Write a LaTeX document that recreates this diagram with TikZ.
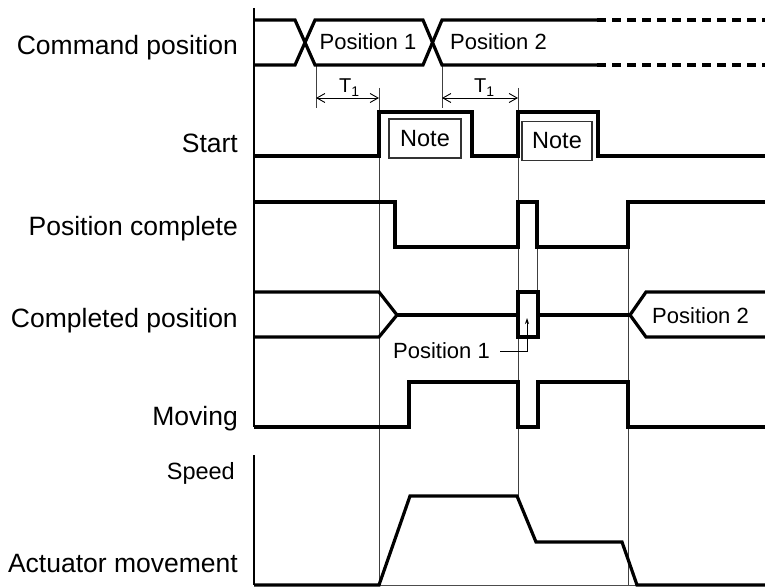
\documentclass[tikz,border=0pt]{standalone}
\usepackage{fontspec}
\setmainfont{Liberation Sans}
\usetikzlibrary{arrows.meta}
\begin{document}
\begin{tikzpicture}[x=1pt,y=-1pt,
  sig/.style={line width=3.2pt, line join=miter, line cap=butt},
  refline/.style={line width=0.9pt, black!75},
  axisline/.style={line width=1.5pt},
  lbl/.style={anchor=base east, inner sep=0pt, font=\fontsize{26.5}{30}\selectfont},
  inlbl/.style={anchor=base west, inner sep=0pt, font=\fontsize{22}{26}\selectfont},
  notebox/.style={draw=black!80, line width=1.4pt, fill=white, inner sep=0pt, minimum width=72pt, minimum height=39pt, font=\fontsize{23.5}{27}\selectfont},
  dimline/.style={line width=0.9pt, {Straight Barb[length=8pt,width=9pt]}-{Straight Barb[length=8pt,width=9pt]}},
  tlbl/.style={anchor=base west, inner sep=0pt, font=\fontsize{20}{22}\selectfont}
]
\useasboundingbox (0,0) rectangle (765,588);

% ---- left labels ----
\node[lbl] (lcmd) at (238,55) {Command position};
\node[lbl] (lstart) at (238,153) {Start};
\node[lbl] (lpc) at (238,235) {Position complete};
\node[lbl] (lcp) at (238,327) {Completed position};
\node[lbl] (lmov) at (238,425) {Moving};
\node[lbl, font=\fontsize{23.5}{27}\selectfont] (lspd) at (235,479) {Speed};
\node[lbl] (lact) at (238,572) {Actuator movement};

% ---- axes ----
\draw[axisline] (254,8) -- (254,427);
\draw[axisline] (254,455) -- (254,585);
\draw[line width=1pt, black!70] (254,585) -- (765,585);

% ---- reference lines ----
\draw[refline] (316,65) -- (316,108);
\draw[refline] (442,65) -- (442,108);
\draw[refline] (379,88) -- (379,585);
\draw[refline] (518,88) -- (518,496);
\draw[refline] (537,247) -- (537,292);
\draw[refline] (628,247) -- (628,585);

% ---- T1 dimensions ----
\coordinate (t1a) at (316,98);
\coordinate (t1b) at (379,98);
\coordinate (t2a) at (442,98);
\coordinate (t2b) at (518,98);
\draw[dimline] (t1a) -- (t1b);
\draw[dimline] (t2a) -- (t2b);
\node[tlbl] (tl1) at (339,93) {T\raisebox{-0.3ex}{\fontsize{14}{14}\selectfont 1}};
\node[tlbl] (tl2) at (474,93) {T\raisebox{-0.3ex}{\fontsize{14}{14}\selectfont 1}};

% ---- Command position ----
\draw[sig] (254,20) -- (295,20) -- (315,65) -- (423,65) -- (442,20) -- (597,20);
\draw[sig] (254,65) -- (295,65) -- (315,20) -- (423,20) -- (442,65) -- (597,65);
\draw[sig, dash pattern=on 9pt off 6pt] (597,20) -- (765,20);
\draw[sig, dash pattern=on 9pt off 6pt] (597,65) -- (765,65);
\node[inlbl, anchor=base] (cp1) at (368,50) {Position 1};
\node[inlbl] (cp2) at (450,50) {Position 2};

% ---- Start ----
\draw[sig] (254,156) -- (379,156) -- (379,112) -- (472,112) -- (472,156) -- (518,156) -- (518,112) -- (598,112) -- (598,156) -- (765,156);
\node[notebox] (note1) at (425,138.5) {Note};
\node[notebox, minimum width=70pt] (note2) at (557,141) {Note};

% ---- Position complete ----
\draw[sig] (254,202) -- (395,202) -- (395,247) -- (518,247) -- (518,202) -- (537,202) -- (537,247) -- (628,247) -- (628,202) -- (765,202);

% ---- Completed position ----
\draw[sig] (254,292) -- (379,292) -- (397,315) -- (379,337) -- (254,337);
\draw[sig] (397,315) -- (518,315);
\draw[sig] (518,292) rectangle (538,337);
\draw[sig] (538,315) -- (630,315);
\draw[sig] (765,292) -- (646,292) -- (630,315) -- (646,337) -- (765,337);
\node[inlbl] (cpos2) at (652,323) {Position 2};
\node[inlbl] (cpos1) at (393,358) {Position 1};
\coordinate (lead) at (527,351);
\coordinate (leadtip) at (527,318);
\draw[line width=0.9pt, -{Stealth[length=6pt,width=4pt]}] (500,351) -- (lead) -- (leadtip);

% ---- Moving ----
\draw[sig] (254,427) -- (409,427) -- (409,382) -- (518,382) -- (518,427) -- (538,427) -- (538,382) -- (628,382) -- (628,427) -- (765,427);

% ---- Speed ----
\draw[sig] (254,585) -- (379,585) -- (410,496) -- (517,496) -- (536,542) -- (622,542) -- (637,585) -- (765,585);
\end{tikzpicture}
\end{document}
